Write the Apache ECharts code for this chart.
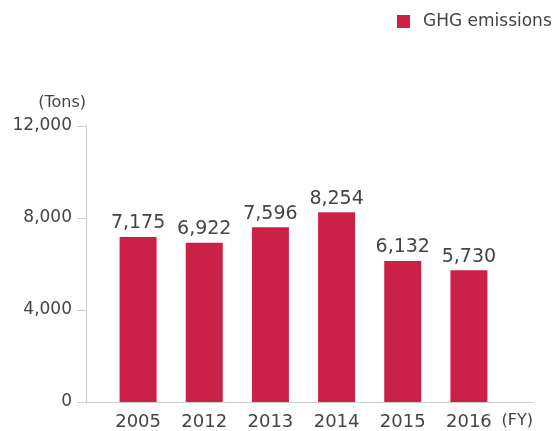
<!DOCTYPE html>
<html>
<head>
<meta charset="utf-8">
<script src="https://cdn.jsdelivr.net/npm/echarts@6/dist/echarts.min.js"></script>
<style>
  html, body { margin: 0; padding: 0; background: #fff; }
  #chart { width: 560px; height: 431px; }
</style>
</head>
<body>
<div id="chart"></div>
<script>
const years = ['2005', '2012', '2013', '2014', '2015', '2016'];
const emissions = [7175, 6922, 7596, 8254, 6132, 5730];
const yMin = 0;
const yMax = 12000;
const yStep = 4000;

const fmt = v => Number(v).toLocaleString('en-US');
const font = 'DejaVu Sans';
const txt = '#444';
const lineCol = '#cccccc';

// 基于准备好的dom，初始化echarts实例
let myChart = echarts.init(document.getElementById('chart'));
myChart.setOption({
  animation: false,
  textStyle: { fontFamily: font },
  legend: {
    left: 397,
    top: 13,
    padding: 0,
    icon: 'rect',
    itemWidth: 13,
    itemHeight: 13,
    textStyle: { fontSize: 17, color: txt, fontFamily: font, padding: [0, 0, 0, 8] },
    data: ['GHG emissions']
  },
  // grid 0: axis lines, grid 1: bars
  grid: [
    { left: 86, right: 27, top: 126, bottom: 29 },
    { left: 105, right: 58, top: 126, bottom: 29 }
  ],
  xAxis: [
    {
      type: 'value', gridIndex: 0, min: 0, max: 1,
      axisLine: { show: true, lineStyle: { color: lineCol, width: 1 } },
      axisTick: { show: false }, axisLabel: { show: false }, splitLine: { show: false },
      name: '(FY)', nameLocation: 'end', nameGap: 0,
      nameTextStyle: { align: 'right', verticalAlign: 'top', padding: [11, 0, 0, 0], fontSize: 16, color: txt, fontFamily: font }
    },
    {
      type: 'category', gridIndex: 1, data: years,
      axisLine: { show: false }, axisTick: { show: false },
      axisLabel: { fontSize: 18, color: txt, margin: 11, fontFamily: font }
    }
  ],
  yAxis: [
    {
      type: 'value', gridIndex: 0, min: yMin, max: yMax, interval: yStep,
      axisLine: { show: true, lineStyle: { color: lineCol, width: 1 } },
      axisTick: { show: true, length: 9, lineStyle: { color: lineCol } },
      axisLabel: { fontSize: 17, color: txt, margin: 14, formatter: fmt, fontFamily: font },
      splitLine: { show: false },
      name: '(Tons)', nameLocation: 'end', nameGap: 23,
      nameTextStyle: { align: 'right', verticalAlign: 'middle', fontSize: 16, color: txt, fontFamily: font }
    },
    {
      type: 'value', gridIndex: 1, min: yMin, max: yMax, interval: yStep, show: false
    }
  ],
  series: [
    {
      name: 'GHG emissions',
      type: 'bar',
      xAxisIndex: 1,
      yAxisIndex: 1,
      data: emissions,
      barWidth: 37,
      itemStyle: { color: '#cc2147' },
      label: { show: true, position: 'top', distance: 4, fontSize: 19, color: txt, formatter: p => fmt(p.value), fontFamily: font }
    }
  ]
});
</script>
</body>
</html>
